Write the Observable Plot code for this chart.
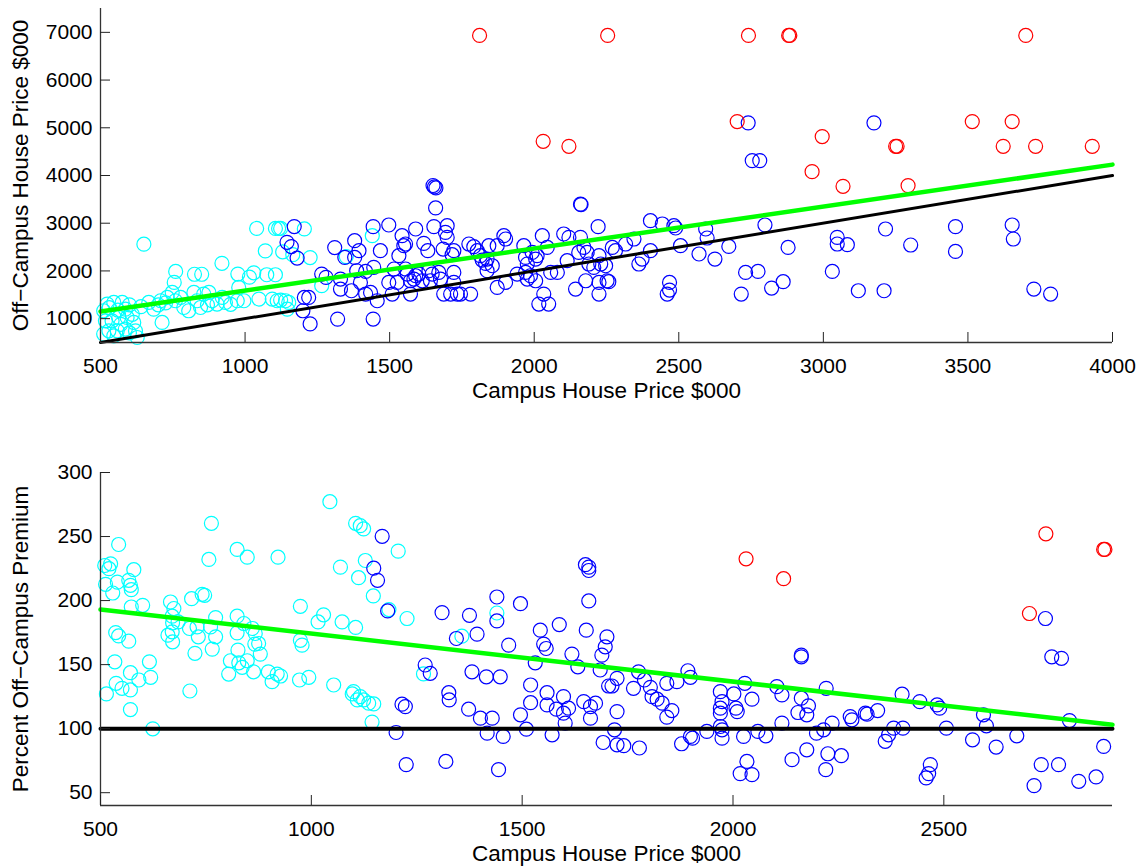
<!DOCTYPE html>
<html><head><meta charset="utf-8">
<script src="https://cdn.jsdelivr.net/npm/d3@7"></script>
<script src="https://cdn.jsdelivr.net/npm/@observablehq/plot@0.6"></script>
<style>
body{margin:0;background:#fff;font-family:"Liberation Sans",Arial,sans-serif}
#chart svg{display:block;overflow:visible}
</style>
</head><body><div id="chart"></div>
<script>
// ---------- Top panel: campus price vs off-campus price ($000) ----------
const topCyan = [[1040,2890],[1105,2890],[1116,2890],[1123,2890],[1205,2880],[650,2560],[1070,2420],[1130,2400],[1165,2340],[1225,2280],[1350,2300],[760,1990],[825,1930],[850,1930],[920,2160],[975,1935],[1015,1870],[1030,1960],[1075,1920],[1105,1920],[755,1760],[1265,1690],[511,1165],[523,1306],[546,1339],[575,1339],[586,1200],[517,955],[540,955],[563,1025],[592,1025],[615,920],[529,745],[558,745],[586,781],[621,745],[511,676],[546,640],[627,605],[667,1339],[684,1200],[708,1375],[713,920],[731,1444],[748,1549],[759,1375],[777,1444],[788,1234],[805,1165],[823,1549],[834,1375],[846,1234],[857,1515],[875,1549],[886,1375],[903,1306],[921,1444],[932,1339],[973,1375],[978,1654],[996,1375],[1048,1410],[1094,1410],[1111,1375],[1123,1390],[1140,1375],[1151,1339],[1146,1200],[1440,2739],[530,1230],[560,1180],[600,1290],[640,1250],[700,1290],[725,1330],[870,1290],[950,1300],[610,1090],[570,880],[600,700]];
const topBlue = [[1170,2930],[1145,2600],[1160,2510],[1180,2270],[1310,2490],[1345,2283],[1265,1935],[1280,1865],[1330,1830],[1330,1620],[1368,1585],[1205,1445],[1220,1445],[1200,1165],[1225,890],[1320,990],
[1650,3790],[1655,3760],[1660,3740],[1659,3320],[2160,3400],[2162,3390],[2221,2928],[1497,2963],[1443,2928],[1590,2879],[1653,2928],[1699,2948],[1693,2808],[1699,2703],[1543,2739],[1555,2564],[1549,2529],[1379,2634],[1394,2424],[1468,2424],[1532,2319],[1618,2578],[1632,2424],[1685,2459],[1722,2424],[1716,2340],[1774,2564],[1791,2508],[1803,2424],[1814,2319],[1820,2228],[1832,2157],[1837,2249],[1843,2529],[1872,2529],[1895,2739],[1901,2669],[1855,2109],[1837,2004],[1964,2529],[1970,2283],[1976,2145],[1993,2388],[2010,2319],[2005,2249],[2028,2739],[2045,2493],[2102,2774],[2120,2703],[2160,2703],[2172,2493],[2183,2388],[2154,2388],[2224,2319],[2230,2145],[2206,2074],[2189,2145],[2247,2109],[1379,2283],[1386,2004],[1417,1990],[1445,2074],[1399,1759],[1515,2040],[1526,1759],[1555,2040],[1561,1935],[1572,1794],[1590,1899],[1584,1830],[1601,1935],[1613,1794],[1636,2004],[1647,1935],[1641,1794],[1670,1969],[1676,1830],[1722,1969],[1722,1759],[1734,1515],[1711,1515],[1745,1515],[1780,1515],[1687,1515],[1497,1759],[1509,1515],[1572,1515],[1417,1515],[1434,1549],[1457,1375],[1443,991],[1872,1654],[1901,1759],[1941,1935],[1970,1969],[1976,1830],[1987,1899],[2005,1794],[2033,1515],[2016,1306],[2050,1306],[2057,1969],[2080,1969],[2114,2214],[2143,1620],[2178,1794],[2224,1759],[2224,1515],[2252,1794],
[2740,5103],[2754,4312],[2780,4312],[2402,3053],[2443,2984],[2483,2948],[2489,2900],[2593,2879],[2598,2690],[2798,2963],[2506,2529],[2570,2355],[2625,2249],[2673,2514],[2878,2493],[3048,2703],[3048,2564],[3083,2550],[3031,1990],[3121,1585],[2731,1969],[2774,1990],[2821,1641],[2861,1774],[2716,1515],[2468,1759],[2468,1599],[2460,1515],[2258,1774],[2270,2493],[2281,2424],[2316,2564],[2345,2669],[2362,2145],[2373,2249],[2402,2424],
[3175,5103],[3215,2879],[3302,2543],[3457,2928],[3457,2409],[3653,2963],[3657,2669],[3210,1585],[3728,1620],[3786,1515]];
const topRed = [[1811,6935],[2254,6935],[2741,6935],[2880,6935],[2884,6935],[3700,6935],[2031,4717],[2120,4612],[2702,5130],[2996,4816],[2961,4081],[3068,3773],[3515,5130],[3653,5130],[3250,4612],[3255,4612],[3622,4612],[3734,4612],[3930,4612],[3293,3788]];
const topFitX = [500, 4000];
const topFitY = [1150, 4228];
const topRefX = [500, 4000];
const topRefY = [500, 4000];
const topXTicks = [500,1000,1500,2000,2500,3000,3500,4000];
const topYTicks = [1000,2000,3000,4000,5000,6000,7000];

// ---------- Bottom panel: campus price vs percent off-campus premium ----------
const botCyan = [[1044,277.2],[763,260.3],[1105,260.3],[1116,258.5],[1124,256],[543,243.8],[824,239.9],[848,233.9],[921,233.9],[757,232.1],[1069,226.1],[510,227.4],[524,228.7],[520,224.9],[579,224.1],[512,212.7],[540,214.4],[567,215.8],[571,211.9],[573,208.5],[529,205.9],[573,195],[600,196.3],[666,198.9],[674,193.8],[670,187.8],[671,182.6],[716,201.5],[741,204.9],[747,204.1],[974,195.5],[684,183.3],[711,178.2],[729,179.4],[732,171.7],[773,186.7],[761,179.4],[773,171.7],[765,162.1],[724,158.8],[660,173],[670,175.6],[671,167.8],[824,187.8],[840,182.1],[824,174.8],[826,161.3],[860,178.2],[867,174.3],[866,166],[875,166.5],[879,158.2],[808,153],[828,151.4],[848,153],[836,147.9],[804,142.6],[863,144.4],[898,144.4],[907,136.7],[919,142.6],[927,141.1],[972,138],[994,140.1],[1053,134.1],[974,169],[978,165.2],[1016,183.3],[1029,188.9],[1073,183.3],[1105,179],[536,175],[543,172.4],[567,168.3],[534,152.2],[616,152.2],[571,143.7],[591,138],[619,140.1],[537,135.4],[551,131.5],[571,130.2],[514,127.1],[571,114.9],[624,99.9],[712,129.4],[1097,127.1],
[1206,238.6],[1128,231.3],[1112,217.9],[1147,203.6],[1184,193],[1227,186],[1440,190.3],[1357,172.2],[1266,142.7],[1100,128.9],[1116,125],[1124,122.4],[1136,119.9],[1109,122.4],[1148,119.3],[1144,105.1]];
const botBlue = [[1168,250.2],[1148,225.3],[1157,215.8],[1181,191.9],[1310,190.6],[1375,188.5],[1344,170.4],[1393,173.8],[1440,202.8],[1440,184.1],[1496,197.6],[1468,165.2],[1270,149.7],[1282,143.2],[1381,144.4],[1415,140.5],[1448,140.5],[1326,128.1],[1327,122.4],[1215,119.1],[1223,117.2],[1373,115.2],[1401,108.2],[1429,108.2],[1201,97],[1417,96.5],[1455,93.9],[1225,71.9],[1319,74.4],[1444,68],[1496,110.8],[1510,99.6],[1520,134.1],[1520,120.3],[1543,176.9],[1551,166],[1557,162.6],[1588,181.3],[1531,151.4],[1559,128.1],[1559,118.5],[1581,115.2],[1598,125],[1610,116],[1598,112.1],[1602,104.3],[1571,95.2],[1618,158.2],[1632,148.3],[1650,228],[1658,226.1],[1658,223.5],[1658,199.7],[1652,176.9],[1646,121.1],[1662,117.2],[1662,108.2],[1674,119.9],[1689,157.4],[1685,145.8],[1701,171.7],[1697,163.9],[1692,89.2],[1705,133.3],
[2162,157.4],[2162,156.1],[1725,139.3],[1713,133.3],[1776,144.4],[1790,138],[1764,131.5],[1804,132.3],[1808,125],[1820,123],[1832,119.9],[1855,114.1],[1843,109],[1843,135.4],[1867,136.7],[1893,145.2],[1899,140.1],[1725,113.3],[1719,99.1],[1725,87.4],[1741,86.7],[1778,84.9],[1878,88.2],[1899,93.9],[1904,92.6],[1938,97.8],[1970,128.9],[1970,116],[1974,121.1],[1970,112.1],[1970,101.7],[1974,99.1],[1974,92.6],[2002,127.1],[2007,116],[2010,113.3],[2045,123],[2028,135.4],[2025,93.9],[2033,74.4],[2017,64.9],[2045,64.1],[2059,97.8],[2078,94.4],[2104,132.8],[2116,126.3],[2116,104.3],[2162,123.8],[2179,117.8],[2175,110.8],[2154,112.6],[2140,75.8],[2175,83.5],[2198,96.5],[2215,99.1],[2235,104.3],[2221,131.5],[2225,80.4],[2220,68],[2257,78.9],[2278,109.4],[2282,106.9],[2314,112.1],
[2741,186],[2756,156.1],[2779,154.9],[2401,126.9],[2443,121.1],[2484,118.5],[2490,116],[2318,111.3],[2343,114.1],[2594,110.8],[2601,102.2],[2798,106.3],[2381,100.4],[2369,95.2],[2361,90.1],[2403,100.4],[2506,100.4],[2568,91.3],[2624,85.6],[2673,94.4],[2879,86.1],[2468,71.9],[2464,64.9],[2458,61.5],[2731,71.9],[2772,71.9],[2714,55.5],[2820,58.9],[2861,62.3]];
const botRed = [[2031,232.6],[2120,217.1],[2742,252.1],[2879,239.9],[2882,239.9],[2703,189.9]];
const botFitX = [500, 2900];
const botFitY = [193, 103];
const botRefX = [500, 2900];
const botRefY = [100, 100];
const botXTicks = [500,1000,1500,2000,2500];
const botYTicks = [50,100,150,200,250,300];

const FONT = '"Liberation Sans", Arial, Helvetica, sans-serif';
const toRows = (pairs) => pairs.map(([x, y]) => ({x, y}));
const toLine = (xs, ys) => xs.map((x, i) => ({x, y: ys[i]}));

function panel(o) {
  const W = 1144, mL = 100, mR = 32;
  const innerH = o.height - o.marginTop - o.marginBottom;
  const innerW = W - mL - mR;
  const tickLen = 10;
  const dot = (pairs, color) => Plot.dot(toRows(pairs), {x: "x", y: "y", r: 7, stroke: color, fill: "none", strokeWidth: 1.2});
  return Plot.plot({
    width: W, height: o.height,
    marginLeft: mL, marginRight: mR, marginTop: o.marginTop, marginBottom: o.marginBottom,
    x: {domain: o.xDomain}, y: {domain: o.yDomain},
    style: {fontFamily: FONT, fontSize: "21px", background: "white", color: "black", overflow: "visible"},
    marks: [
      dot(o.cyan, "#00ffff"),
      dot(o.blue, "#0000ff"),
      dot(o.red, "#ff0000"),
      Plot.line(toLine(o.refX, o.refY), {x: "x", y: "y", stroke: "black", strokeWidth: o.refWidth}),
      Plot.line(toLine(o.fitX, o.fitY), {x: "x", y: "y", stroke: "#00ff00", strokeWidth: 4.5}),
      Plot.ruleX([o.xDomain[0]], {stroke: "#333", strokeWidth: 1.3}),
      Plot.ruleY([o.yDomain[0]], {stroke: "#333", strokeWidth: 1.3}),
      Plot.tickX(o.xTicks, {x: d => d, insetTop: innerH - tickLen, stroke: "#222"}),
      Plot.tickY(o.yTicks, {y: d => d, insetRight: innerW - tickLen, stroke: "#222"}),
      Plot.axisX({ticks: o.xTicks, tickSize: 0, tickPadding: 16, tickFormat: d3.format("d"), fontSize: 21, label: null}),
      Plot.axisY({ticks: o.yTicks, tickSize: 0, tickPadding: 8, tickFormat: d3.format("d"), fontSize: 21, label: null}),
      Plot.text([o.xLabel], {frameAnchor: "bottom", dy: 48, text: d => d, fontSize: 22.5, textAnchor: "middle", lineAnchor: "middle"}),
      Plot.text([o.yLabel], {frameAnchor: "left", dx: -80, rotate: -90, text: d => d, fontSize: 22.5, textAnchor: "middle", lineAnchor: "middle"})
    ]
  });
}

const chart = document.getElementById("chart");
chart.append(panel({
  height: 430, marginTop: 8, marginBottom: 88,
  xDomain: [500, 4000], yDomain: [500, 7500],
  cyan: topCyan, blue: topBlue, red: topRed,
  fitX: topFitX, fitY: topFitY, refX: topRefX, refY: topRefY, refWidth: 3,
  xTicks: topXTicks, yTicks: topYTicks,
  xLabel: "Campus House Price $000", yLabel: "Off\u2212Campus House Price $000"
}));
chart.append(panel({
  height: 437, marginTop: 42, marginBottom: 62,
  xDomain: [500, 2900], yDomain: [40, 300],
  cyan: botCyan, blue: botBlue, red: botRed,
  fitX: botFitX, fitY: botFitY, refX: botRefX, refY: botRefY, refWidth: 4,
  xTicks: botXTicks, yTicks: botYTicks,
  xLabel: "Campus House Price $000", yLabel: "Percent Off\u2212Campus Premium"
}));
</script>
</body></html>
